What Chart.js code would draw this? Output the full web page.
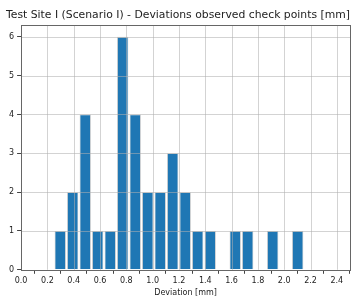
<!DOCTYPE html>
<html>
<head>
<meta charset="utf-8">
<script src="https://cdn.jsdelivr.net/npm/chart.js@4"></script>
<style>
  html, body { margin: 0; padding: 0; background: #fff; }
  #wrap { width: 361px; height: 299px; }
</style>
</head>
<body>
<div id="wrap"><canvas id="histChart" width="361" height="299"></canvas></div>
<script>
// histogram bins (bin centres, mm) and counts per bin
const binCenters = [0.2975, 0.3925, 0.4875, 0.5825, 0.6775, 0.7725, 0.8675, 0.9625, 1.0575, 1.1525,
                    1.2475, 1.3425, 1.4375, 1.5325, 1.6275, 1.7225, 1.8175, 1.9125, 2.0075, 2.1025];
const counts = [1, 2, 4, 1, 1, 6, 4, 2, 2, 3,
                2, 1, 1, 0, 1, 1, 0, 1, 0, 1];
const titleText = 'Test Site I (Scenario I) - Deviations observed check points [mm]';
const xLabel = 'Deviation [mm]';

const FONT = "'DejaVu Sans', sans-serif";

// matplotlib-ish: grid drawn over the bars + full frame
const gridOnTop = {
    id: 'gridOnTop',
    afterDatasetsDraw(chart) {
        const c = chart.ctx, a = chart.chartArea;
        const xs = chart.scales.x, ys = chart.scales.y;
        c.save();
        c.strokeStyle = 'rgba(176,176,176,0.7)';
        c.lineWidth = 0.8;
        xs.ticks.forEach(t => {
            const px = Math.round(xs.getPixelForValue(t.value)) + 0.5;
            c.beginPath(); c.moveTo(px, a.top); c.lineTo(px, a.bottom); c.stroke();
        });
        ys.ticks.forEach(t => {
            const py = Math.round(ys.getPixelForValue(t.value)) + 0.5;
            c.beginPath(); c.moveTo(a.left, py); c.lineTo(a.right, py); c.stroke();
        });
        c.strokeStyle = '#666';
        c.lineWidth = 1;
        c.strokeRect(Math.round(a.left) + 0.5, Math.round(a.top) + 0.5,
                     Math.round(a.right - a.left), Math.round(a.bottom - a.top));
        c.restore();
    }
};

const ctx = document.getElementById('histChart').getContext('2d');
const chart = new Chart(ctx, {
    type: 'bar',
    data: {
        datasets: [{
            label: 'count',
            data: binCenters.map((x, i) => ({x: x, y: counts[i]})),
            backgroundColor: '#1f77b4',
            borderColor: 'rgba(190,190,190,0.9)',
            borderWidth: 0.8,
            barPercentage: 0.9,
            categoryPercentage: 1.0
        }]
    },
    plugins: [gridOnTop],
    options: {
        responsive: false,
        animation: false,
        layout: { padding: { left: 6, right: 11, top: 0, bottom: 0 } },
        plugins: {
            legend: { display: false },
            tooltip: { enabled: false },
            title: {
                display: true,
                text: titleText,
                color: '#222',
                font: { family: FONT, size: 11, weight: 'normal' },
                padding: { top: 9, bottom: 3 }
            }
        },
        scales: {
            x: {
                type: 'linear',
                min: 0,
                max: 2.5,
                offset: false,
                grid: { display: true, drawOnChartArea: false, tickLength: 4, tickColor: '#444' },
                border: { display: false },
                ticks: {
                    stepSize: 0.2,
                    includeBounds: false,
                    autoSkip: false,
                    maxRotation: 0,
                    padding: 2,
                    color: '#222',
                    font: { family: FONT, size: 8 },
                    callback: v => v.toFixed(1)
                },
                title: {
                    display: true,
                    text: xLabel,
                    color: '#222',
                    font: { family: FONT, size: 8 },
                    padding: { top: 1, bottom: 1 }
                }
            },
            y: {
                min: 0,
                max: 6.3,
                grid: { display: true, drawOnChartArea: false, tickLength: 4, tickColor: '#444' },
                border: { display: false },
                ticks: {
                    stepSize: 1,
                    includeBounds: false,
                    padding: 3,
                    color: '#222',
                    font: { family: FONT, size: 8 }
                }
            }
        }
    }
});
</script>
</body>
</html>
